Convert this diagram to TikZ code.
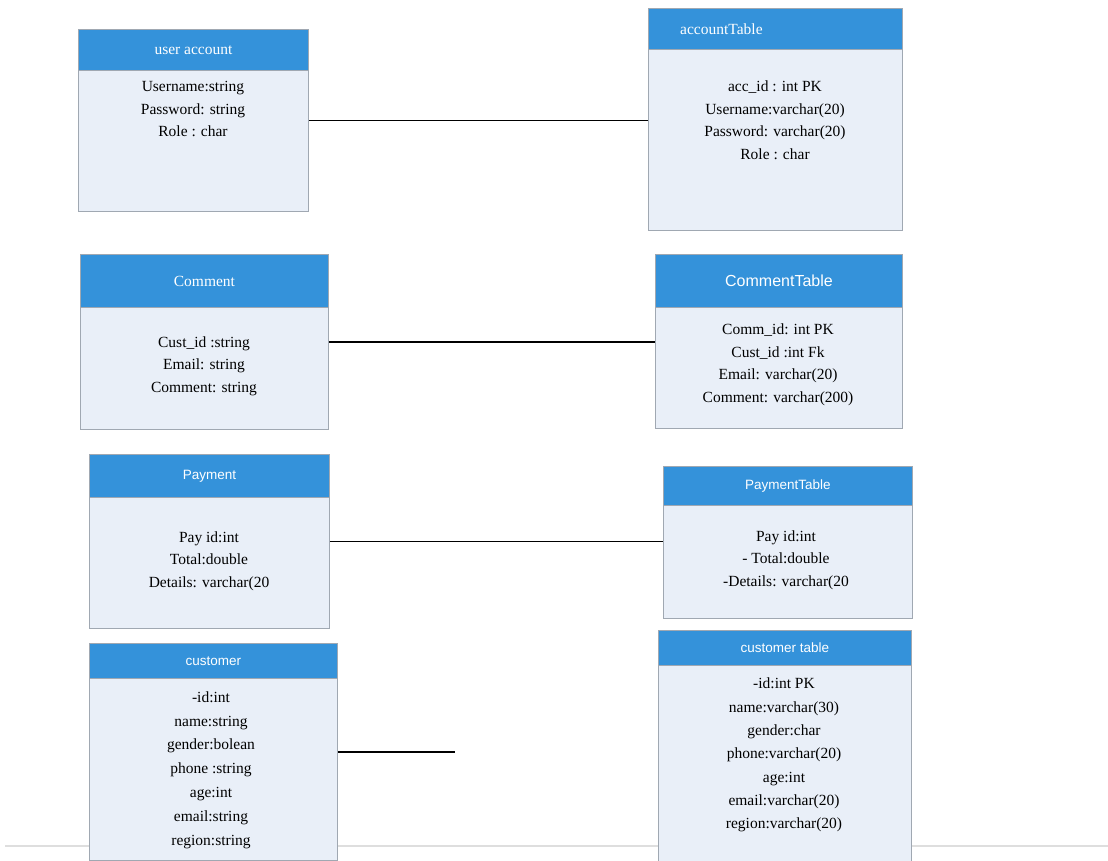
\documentclass[tikz,border=0pt]{standalone}
\usepackage{fontspec}
\setmainfont{Liberation Serif}
\newfontfamily\headsans{Liberation Sans}
\newfontfamily\headserif{Liberation Serif}
\definecolor{headblue}{RGB}{52,146,218}
\definecolor{bodyfill}{RGB}{233,239,248}
\definecolor{boxline}{RGB}{160,168,178}
\definecolor{ruleline}{RGB}{222,222,222}
\tikzset{
  classbody/.style={draw=boxline, line width=0.9pt, fill=bodyfill, anchor=north west, inner sep=0pt},
  classhead/.style={draw=boxline, line width=0.9pt, fill=headblue, anchor=north west, inner sep=0pt},
  titleserif/.style={text=white, font=\headserif\fontsize{15.5}{17}\selectfont, inner sep=0pt},
  titlesans/.style={text=white, font=\headsans\fontsize{13.5}{16}\selectfont, inner sep=0pt},
  fields/.style={align=center, inner sep=0pt, font=\fontsize{15.5}{22.5}\selectfont},
  link/.style={line width=1.4pt, black}
}
\begin{document}
\begin{tikzpicture}[x=1pt,y=-1pt]
\useasboundingbox (0,0) rectangle (1108,861);
\fill[white] (0,0) rectangle (1108,861);
% faint page rule behind the boxes
\draw[ruleline, line width=2pt] (5,846) -- (1108,846);

% user account
\node[classbody, minimum width=230pt, minimum height=182pt] (ua) at (78,29) {};
\node[classhead, minimum width=230pt, minimum height=41pt] (uah) at (78,29) {};
\node[titleserif] at (uah.center) {user account};
\node[fields] (uaf) at (193,109) {Username:string\\Password: string\\Role : char};

% accountTable
\node[classbody, minimum width=254pt, minimum height=222pt] (at) at (648,8) {};
\node[classhead, minimum width=254pt, minimum height=41pt] (ath) at (648,8) {};
\node[titleserif, anchor=west] at (680,29) {accountTable};
\node[fields] (atf) at (775,120) {acc\_id : int PK\\Username:varchar(20)\\Password: varchar(20)\\Role : char};

% Comment
\node[classbody, minimum width=248pt, minimum height=175pt] (cm) at (80,254) {};
\node[classhead, minimum width=248pt, minimum height=53pt] (cmh) at (80,254) {};
\node[titleserif] at (cmh.center) {Comment};
\node[fields] (cmf) at (204,366) {Cust\_id :string\\Email: string\\Comment: string};

% CommentTable
\node[classbody, minimum width=247pt, minimum height=174pt] (ct) at (655,254) {};
\node[classhead, minimum width=247pt, minimum height=53pt] (cth) at (655,254) {};
\node[titlesans, font=\headsans\fontsize{16}{18}\selectfont] at (cth.center) {CommentTable};
\node[fields] (ctf) at (778,365) {Comm\_id: int PK\\Cust\_id :int Fk\\Email: varchar(20)\\Comment: varchar(200)};

% Payment
\node[classbody, minimum width=240pt, minimum height=174pt] (pm) at (89,454) {};
\node[classhead, minimum width=240pt, minimum height=43pt] (pmh) at (89,454) {};
\node[titlesans] at (pmh.center) {Payment};
\node[fields] (pmf) at (209,561) {Pay id:int\\Total:double\\Details: varchar(20};

% PaymentTable
\node[classbody, minimum width=249pt, minimum height=152pt] (pt) at (663,466) {};
\node[classhead, minimum width=249pt, minimum height=39pt] (pth) at (663,466) {};
\node[titlesans] at (pth.center) {PaymentTable};
\node[fields] (ptf) at (786,560) {Pay id:int\\- Total:double\\-Details: varchar(20};

% customer
\node[classbody, minimum width=248pt, minimum height=217pt] (cu) at (89,643) {};
\node[classhead, minimum width=248pt, minimum height=35pt] (cuh) at (89,643) {};
\node[titlesans] at (cuh.center) {customer};
\node[fields, font=\fontsize{15.5}{23.8}\selectfont] (cuf) at (211,770) {-id:int\\name:string\\gender:bolean\\phone :string\\age:int\\email:string\\region:string};

% customer table
\node[classbody, minimum width=253pt, minimum height=245pt] (cut) at (658,630) {};
\node[classhead, minimum width=253pt, minimum height=35pt] (cuth) at (658,630) {};
\node[titlesans] at (cuth.center) {customer table};
\node[fields, font=\fontsize{15.5}{23.3}\selectfont] (cutf) at (784,755) {-id:int PK\\name:varchar(30)\\gender:char\\phone:varchar(20)\\age:int\\email:varchar(20)\\region:varchar(20)};

% links between classes and tables
\coordinate (cuend) at (455,751);
\draw[link] (ua.east) -- (ua.east -| at.west);
\draw[link] (cm.east) -- (cm.east -| ct.west);
\draw[link] (pm.east) -- (pm.east -| pt.west);
\draw[link] (cu.east) -- (cu.east -| cuend);
\end{tikzpicture}
\end{document}
